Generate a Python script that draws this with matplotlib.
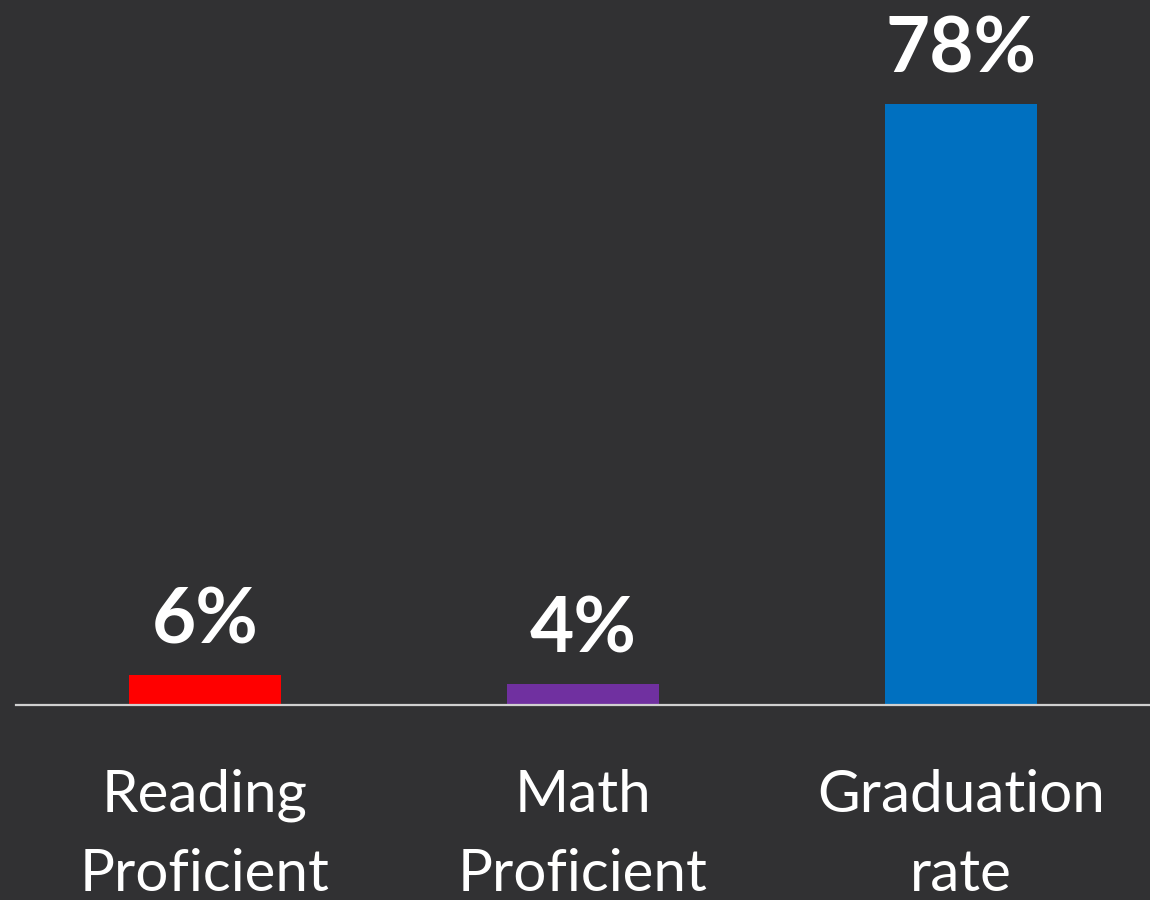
import numpy as np
import matplotlib
matplotlib.use("Agg")
import matplotlib.pyplot as plt

# data
categories = ["Reading\nProficient", "Math\nProficient", "Graduation\nrate"]
bar_heights = [3.9, 2.7, 78]          # heights as drawn
value_labels = ["6%", "4%", "78%"]    # labels as printed above the bars
colors = ["#FF0000", "#7030A0", "#0070C0"]

bg = "#313133"

fig = plt.figure(figsize=(11.5, 9), dpi=100, facecolor=bg)
ax = fig.add_axes([16 / 1150, 195 / 900, 1 - 16 / 1150, 705 / 900])
ax.set_facecolor(bg)

x = np.arange(len(categories))
bars = ax.bar(x, bar_heights, width=0.4, color=colors, zorder=2)

for b, lab in zip(bars, value_labels):
    ax.annotate(lab, (b.get_x() + b.get_width() / 2, b.get_height()),
                xytext=(0, 23), textcoords="offset points",
                ha="center", va="baseline", color="white",
                fontsize=55, fontweight="bold", family="Lato")

ax.set_xlim(-0.5, 2.5)
ax.set_ylim(0, 78 * 705 / 601)

ax.set_xticks(x)
ax.set_xticklabels(categories, color="white", fontsize=42, family="Lato",
                   linespacing=1.6)
ax.tick_params(axis="x", length=0, pad=46)
ax.set_yticks([])

for s in ["top", "left", "right"]:
    ax.spines[s].set_visible(False)
ax.spines["bottom"].set_color("#d0d0d0")
ax.spines["bottom"].set_linewidth(1.6)

fig.savefig("out.png", dpi=100, facecolor=bg)
